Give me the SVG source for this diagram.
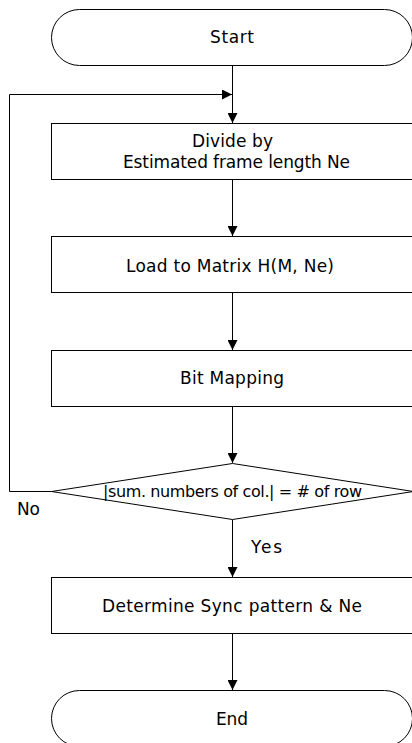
<svg xmlns="http://www.w3.org/2000/svg" width="412" height="743" viewBox="0 0 412 743">
  <style>
    .shape { fill: #fff; stroke: #000; stroke-width: 1; }
    .line { fill: none; stroke: #000; stroke-width: 1; }
    .lbl { font-family: "DejaVu Sans", "Liberation Sans", sans-serif; font-size: 17px; fill: #000; }
    .mid { text-anchor: middle; }
    .cond { font-size: 16px; }
  </style>
  <defs>
    <marker id="arrow" markerUnits="userSpaceOnUse" markerWidth="10" markerHeight="10" refX="10" refY="5" orient="auto">
      <path d="M0,0 L10,5 L0,10 z" fill="#000"/>
    </marker>
  </defs>
  <rect width="412" height="743" fill="#fff"/>

  <g id="connectors">
    <line class="line" x1="232.5" y1="65.5" x2="232.5" y2="123" marker-end="url(#arrow)"/>
    <line class="line" x1="232.5" y1="179.5" x2="232.5" y2="236" marker-end="url(#arrow)"/>
    <line class="line" x1="232.5" y1="293" x2="232.5" y2="350" marker-end="url(#arrow)"/>
    <line class="line" x1="232.5" y1="406.5" x2="232.5" y2="463" marker-end="url(#arrow)"/>
    <line class="line" x1="232.5" y1="519.5" x2="232.5" y2="577" marker-end="url(#arrow)"/>
    <line class="line" x1="232.5" y1="633.5" x2="232.5" y2="690" marker-end="url(#arrow)"/>
    <polyline class="line" points="51.5,491.5 9.5,491.5 9.5,94.5 232,94.5" marker-end="url(#arrow)"/>
    <text class="lbl" x="17" y="515" textLength="23" lengthAdjust="spacing">No</text>
    <text class="lbl" x="251" y="553" textLength="31" lengthAdjust="spacing">Yes</text>
  </g>

  <g id="start">
    <rect class="shape" x="51.5" y="9.5" width="361" height="56" rx="28" ry="28"/>
    <text class="lbl mid" x="232" y="43" textLength="44" lengthAdjust="spacing">Start</text>
  </g>

  <g id="divide">
    <rect class="shape" x="51.5" y="123.5" width="362" height="56"/>
    <text class="lbl mid" x="232.5" y="147" textLength="81" lengthAdjust="spacing">Divide by</text>
    <text class="lbl mid" x="236.5" y="168" textLength="227" lengthAdjust="spacing">Estimated frame length Ne</text>
  </g>

  <g id="load">
    <rect class="shape" x="51.5" y="236.5" width="362" height="56"/>
    <text class="lbl mid" x="230" y="272" textLength="208" lengthAdjust="spacing">Load to Matrix H(M, Ne)</text>
  </g>

  <g id="bitmap">
    <rect class="shape" x="51.5" y="350.5" width="362" height="56"/>
    <text class="lbl mid" x="232" y="384" textLength="104" lengthAdjust="spacing">Bit Mapping</text>
  </g>

  <g id="check">
    <polygon class="shape" points="232.5,463.5 413.5,491.5 232.5,519.5 51.5,491.5"/>
    <text class="lbl cond mid" x="232.5" y="497" textLength="259" lengthAdjust="spacing">|sum. numbers of col.| = # of row</text>
  </g>

  <g id="determine">
    <rect class="shape" x="51.5" y="577.5" width="362" height="56"/>
    <text class="lbl mid" x="232" y="612" textLength="260" lengthAdjust="spacing">Determine Sync pattern &amp; Ne</text>
  </g>

  <g id="end">
    <rect class="shape" x="51.5" y="690.5" width="361" height="56" rx="28" ry="28"/>
    <text class="lbl mid" x="232" y="725" textLength="32" lengthAdjust="spacing">End</text>
  </g>
</svg>
